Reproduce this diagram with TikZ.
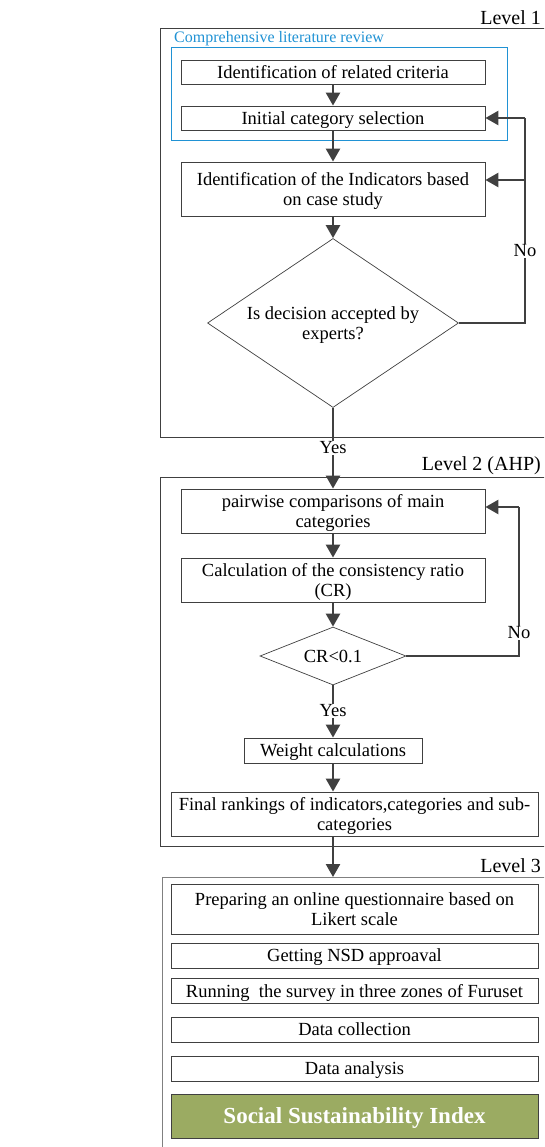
\documentclass[tikz,border=0pt]{standalone}
\usepackage{fontspec}
\setmainfont{Liberation Serif}
\usetikzlibrary{shapes.geometric,arrows.meta}
\definecolor{linec}{RGB}{64,64,64}
\definecolor{bluec}{RGB}{32,146,212}
\definecolor{greenc}{RGB}{155,171,98}
\tikzset{
  stepbox/.style={draw=linec, line width=0.8pt, fill=white, inner sep=0pt, align=center,
    text depth=0pt, font=\fontsize{18.5}{20}\selectfont},
  decision/.style={diamond, draw=linec, line width=0.7pt, fill=white, inner sep=0pt, align=center,
    text depth=0pt, font=\fontsize{18.5}{20}\selectfont},
  flow/.style={draw=linec, line width=2.5pt, -{Triangle[length=13pt,width=14pt]}},
  plainline/.style={draw=linec, line width=2.5pt},
  lvlframe/.style={draw=linec, line width=0.9pt},
  lvllabel/.style={font=\fontsize{20}{22}\selectfont, anchor=east, inner sep=0pt},
  lbl/.style={font=\fontsize{18.5}{20}\selectfont, fill=white, inner sep=1pt}
}
\begin{document}
\begin{tikzpicture}[x=1pt,y=-1pt]
\useasboundingbox (0,0) rectangle (544,1147);
\clip (0,0) rectangle (544,1147);
% level frames
\draw[lvlframe] (560,28) -- (160,28) -- (160,437) -- (560,437);
\draw[lvlframe] (560,477) -- (160,477) -- (160,846) -- (560,846);
\draw[lvlframe, draw=gray] (560,877) -- (162,877) -- (162,1160);
\node[lvllabel] (lv1) at (541,18) {Level 1};
\node[lvllabel] (lv2) at (541,466) {Level 2 (AHP)};
\node[lvllabel] (lv3) at (541,866) {Level 3};
% blue group
\draw[draw=bluec, line width=0.9pt] (171,47) rectangle (507,140);
\node[font=\fontsize{16}{18}\selectfont, text=bluec, anchor=west, inner sep=0pt] (blbl) at (174,39) {Comprehensive literature review};
% level 1
\node[stepbox, minimum width=304pt, minimum height=24pt] (b1) at (333,72) {Identification of related criteria};
\node[stepbox, minimum width=304pt, minimum height=24pt] (b2) at (333,118) {Initial category selection};
\node[stepbox, minimum width=304pt, minimum height=54pt] (b3) at (333,189) {Identification of the Indicators based\\on case study};
\node[decision, aspect=1.485, minimum width=251pt, minimum height=169pt] (d1) at (333,323) {Is decision accepted by\\experts?};
\node[lbl] (yes1) at (333,448) {Yes};
% level 2
\node[stepbox, minimum width=304pt, minimum height=44pt] (b4) at (333,511) {pairwise comparisons of main\\categories};
\node[stepbox, minimum width=304pt, minimum height=44pt] (b5) at (333,580) {Calculation of the consistency ratio\\(CR)};
\node[decision, aspect=2.5, minimum width=146pt, minimum height=58pt] (d2) at (333,656) {CR<0.1};
\node[lbl] (yes2) at (333,711) {Yes};
\node[stepbox, minimum width=178pt, minimum height=25pt] (b6) at (333,750.5) {Weight calculations};
\node[stepbox, minimum width=367pt, minimum height=44pt] (b7) at (354.5,814) {Final rankings of indicators,categories and sub-\\categories};
% level 3
\node[stepbox, minimum width=367pt, minimum height=50pt] (b8) at (354.5,909) {Preparing an online questionnaire based on\\Likert scale};
\node[stepbox, minimum width=367pt, minimum height=25pt] (b9) at (354.5,955.5) {Getting NSD approaval};
\node[stepbox, minimum width=367pt, minimum height=25pt] (b10) at (354.5,990.5) {Running\ \ the survey in three zones of Furuset};
\node[stepbox, minimum width=367pt, minimum height=25pt] (b11) at (354.5,1029.5) {Data collection};
\node[stepbox, minimum width=367pt, minimum height=25pt] (b12) at (354.5,1068.5) {Data analysis};
\node[stepbox, fill=greenc, text=white, font=\bfseries\fontsize{23}{25}\selectfont, minimum width=367pt, minimum height=44pt] (b13) at (354.5,1116) {Social Sustainability Index};
% connectors level 1
\draw[flow] (b1) -- (b2);
\draw[flow] (b2) -- (b3);
\draw[flow] (b3) -- (d1);
\draw[plainline] (d1.south) -- (yes1.north);
\draw[flow] (yes1.south) -- (b4.north);
\coordinate (r1) at (525,118);
\coordinate (r2) at (525,180);
\draw[plainline] (d1.east) -| (r1);
\draw[flow] (r1) -- (b2.east);
\draw[flow] (r2) -- (r2 -| b3.east);
\node[lbl] (no1) at (525,251) {No};
% connectors level 2
\draw[flow] (b4) -- (b5);
\draw[flow] (b5) -- (d2);
\draw[plainline] (d2.south) -- (yes2.north);
\draw[flow] (yes2.south) -- (b6.north);
\draw[flow] (b6.south) -- (b6.south |- b7.north);
\coordinate (r3) at (519,507);
\draw[plainline] (d2.east) -| (r3);
\draw[flow] (r3) -- (r3 -| b4.east);
\node[lbl] (no2) at (519,633) {No};
\coordinate (l3top) at (333,877);
\draw[flow] (b6.south |- b7.south) -- (l3top);
\end{tikzpicture}
\end{document}
